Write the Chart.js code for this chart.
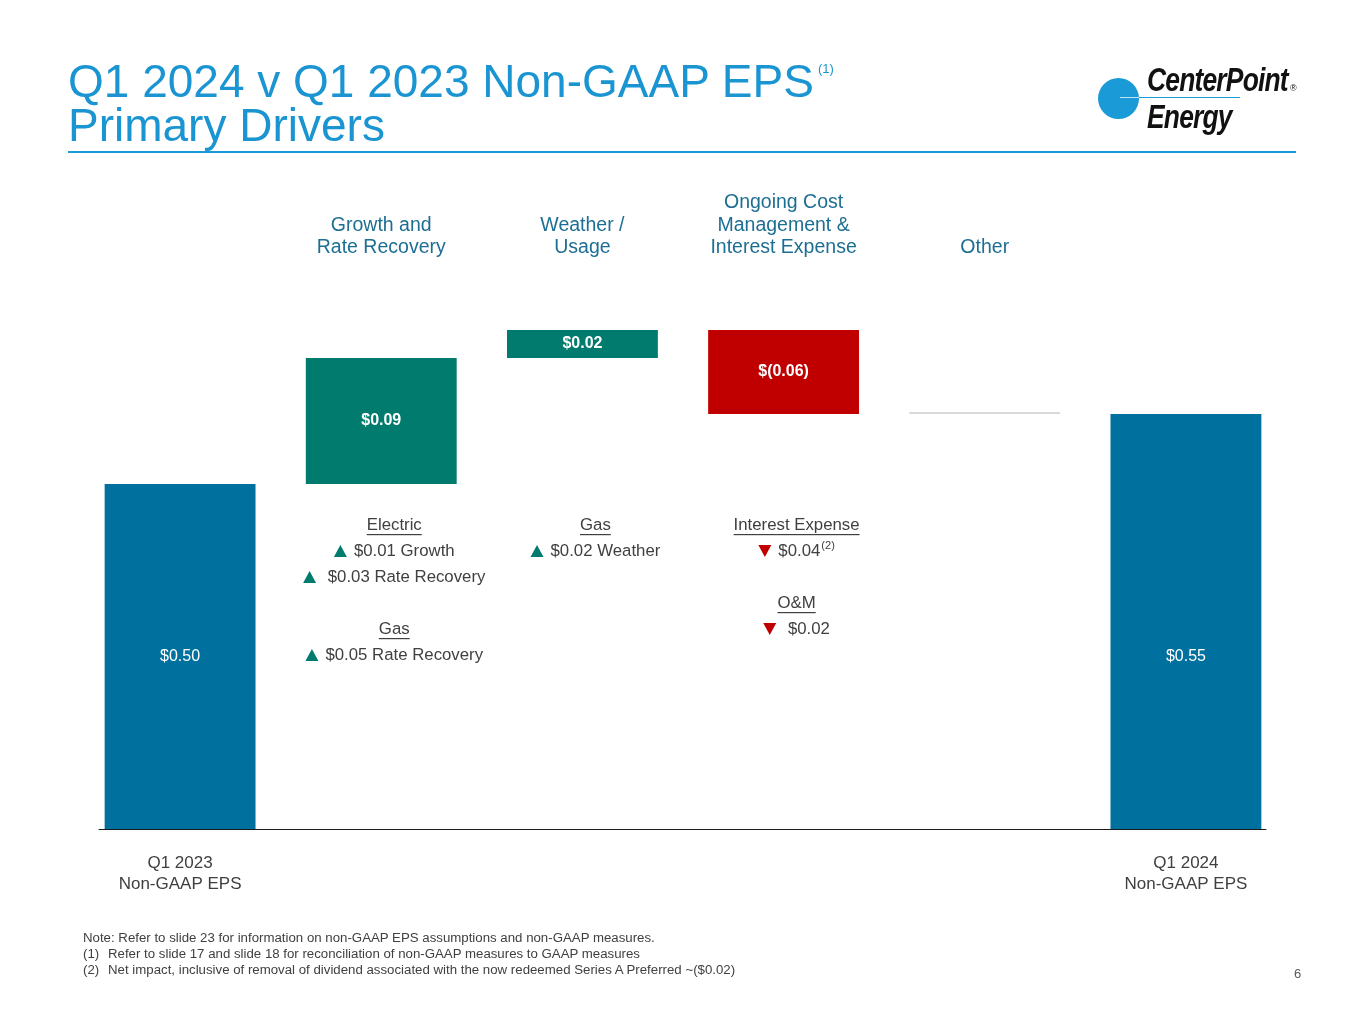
<!DOCTYPE html>
<html>
<head>
<meta charset="utf-8">
<title>Q1 2024 v Q1 2023 Non-GAAP EPS</title>
<script src="https://cdn.jsdelivr.net/npm/chart.js@4.4.1/dist/chart.umd.min.js"></script>
<style>
  body { margin: 0; width: 1365px; height: 1024px; position: relative; background: #fff; overflow: hidden;
         font-family: "Liberation Sans", Arial, sans-serif; }
  #chart { position: absolute; left: 0; top: 0; }
  .title { position: absolute; left: 68px; font-size: 46px; line-height: 46px; color: #1a95d2; white-space: nowrap; }
  .title-sup { position: absolute; left: 818px; top: 61px; font-size: 13px; color: #1a95d2; }
  .rule { position: absolute; left: 68px; top: 151px; width: 1228px; height: 2px; background: #1a9ad6; }
  .logo-dot { position: absolute; left: 1098px; top: 78px; width: 41px; height: 41px; border-radius: 50%; background: #1a9ad6; }
  .logo-line { position: absolute; left: 1120px; top: 97px; width: 120px; height: 1px; background: #1a9ad6; }
  .logo-line-in { position: absolute; left: 1120px; top: 97px; width: 19px; height: 1px; background: #bfe3f5; }
  .logo-text { position: absolute; left: 1147px; color: #111; font-weight: bold; font-style: italic; font-size: 33px;
               letter-spacing: -1px; line-height: 33px; white-space: nowrap; transform: scaleX(0.8); transform-origin: left top; }
  .logo-reg { position: absolute; left: 1290px; top: 83px; font-size: 9px; color: #111; }
  .notes { position: absolute; left: 83px; top: 930px; font-size: 13.25px; line-height: 16px; color: #404040; white-space: nowrap; }
  .notes span { display: inline-block; width: 25px; }
  .page { position: absolute; left: 1294px; top: 966px; font-size: 13px; color: #595959; }
</style>
</head>
<body>
<canvas id="chart" width="1365" height="1024"></canvas>

<div class="title" style="top:58px">Q1 2024 v Q1 2023 Non-GAAP EPS</div>
<div class="title-sup">(1)</div>
<div class="title" style="top:102px">Primary Drivers</div>
<div class="rule"></div>

<div class="logo-dot"></div>
<div class="logo-line"></div>
<div class="logo-line-in"></div>
<div class="logo-text" style="top:63px">CenterPoint</div>
<div class="logo-text" style="top:100px">Energy</div>
<div class="logo-reg">®</div>

<div class="notes">
  Note: Refer to slide 23 for information on non-GAAP EPS assumptions and non-GAAP measures.<br>
  <span>(1)</span>Refer to slide 17 and slide 18 for reconciliation of non-GAAP measures to GAAP measures<br>
  <span>(2)</span>Net impact, inclusive of removal of dividend associated with the now redeemed Series A Preferred ~($0.02)
</div>
<div class="page">6</div>

<script>
const FONT = '"Liberation Sans", Arial, sans-serif';

// chart data
const categories = ["Q1 2023 Non-GAAP EPS", "Growth and Rate Recovery", "Weather / Usage",
  "Ongoing Cost Management & Interest Expense", "Other", "Q1 2024 Non-GAAP EPS"];
const bottomLabels = [["Q1 2023", "Non-GAAP EPS"], "", "", "", "", ["Q1 2024", "Non-GAAP EPS"]];
const headerLabels = ["", ["Growth and", "Rate Recovery"], ["Weather /", "Usage"],
  ["Ongoing Cost", "Management &", "Interest Expense"], "Other", ""];
const isTotal = [true, false, false, false, false, true];
const amounts = [0.50, 0.09, 0.02, -0.06, 0.00, 0.55];
const valueLabels = ["$0.50", "$0.09", "$0.02", "$(0.06)", "", "$0.55"];
const barColors = ["#00709f", "#007b6e", "#007b6e", "#c00000", "#d9d9d9", "#00709f"];

// slide axis is cut, baseline is not zero
const axisMin = 0.2536;
const axisMax = 0.6386;

// driver notes under the bars: column, row, text, kind
const driverNotes = [
  [1, 0, "Electric", "head"],
  [1, 1, "$0.01 Growth", "up"],
  [1, 2, " $0.03 Rate Recovery", "up"],
  [1, 4, "Gas", "head"],
  [1, 5, "$0.05 Rate Recovery", "up"],
  [2, 0, "Gas", "head"],
  [2, 1, "$0.02 Weather", "up"],
  [3, 0, "Interest Expense", "head"],
  [3, 1, "$0.04", "down", "(2)"],
  [3, 3, "O&M", "head"],
  [3, 4, " $0.02", "down"],
];

// floating ranges for the waterfall
let running = 0;
const ranges = amounts.map((v, i) => {
  if (isTotal[i]) {
    running = v;
    return [axisMin, v];
  }
  const start = running;
  running = +(running + v).toFixed(4);
  return [start, running];
});

function triangle(ctx, x, y, up, color) {
  ctx.fillStyle = color;
  ctx.beginPath();
  if (up) {
    ctx.moveTo(x, y - 6); ctx.lineTo(x + 6.5, y + 6); ctx.lineTo(x - 6.5, y + 6);
  } else {
    ctx.moveTo(x - 6.5, y - 6); ctx.lineTo(x + 6.5, y - 6); ctx.lineTo(x, y + 6);
  }
  ctx.closePath();
  ctx.fill();
}

const slideDraw = {
  id: "slideDraw",
  afterDatasetsDraw(chart) {
    const { ctx, chartArea } = chart;
    const bars = chart.getDatasetMeta(0).data;
    const first = bars[0];
    const last = bars[bars.length - 1];
    ctx.save();

    // baseline
    ctx.strokeStyle = "#1a1a1a";
    ctx.lineWidth = 1.2;
    ctx.beginPath();
    ctx.moveTo(first.x - first.width / 2 - 6, chartArea.bottom + 0.5);
    ctx.lineTo(last.x + last.width / 2 + 5, chartArea.bottom + 0.5);
    ctx.stroke();

    // labels in bars
    ctx.textAlign = "center";
    ctx.textBaseline = "middle";
    ctx.fillStyle = "#ffffff";
    const totalY = (first.y + first.base) / 2;
    bars.forEach((b, i) => {
      if (!valueLabels[i]) return;
      ctx.font = (isTotal[i] ? "" : "bold ") + "16px " + FONT;
      ctx.fillText(valueLabels[i], b.x, isTotal[i] ? totalY : (b.y + b.base) / 2);
    });

    // driver notes
    const top = chartArea.top + 235;
    driverNotes.forEach(([col, row, text, kind, sup]) => {
      const cx = bars[col].x + 13;
      const y = top + row * 26;
      ctx.font = "16.8px " + FONT;
      ctx.fillStyle = "#404040";
      if (kind === "head") {
        const w = ctx.measureText(text).width;
        ctx.textAlign = "center";
        ctx.fillText(text, cx, y);
        ctx.fillRect(cx - w / 2, y + 9, w, 1.2);
        return;
      }
      const tw = ctx.measureText(text).width;
      ctx.font = "11px " + FONT;
      const sw = sup ? ctx.measureText(sup).width + 1 : 0;
      const total = 13 + 7 + tw + sw;
      const x0 = cx - total / 2;
      triangle(ctx, x0 + 6.5, y, kind === "up", kind === "up" ? "#007b6e" : "#c00000");
      ctx.fillStyle = "#404040";
      ctx.textAlign = "left";
      ctx.font = "16.8px " + FONT;
      ctx.fillText(text, x0 + 20, y);
      if (sup) {
        ctx.font = "11px " + FONT;
        ctx.fillText(sup, x0 + 20 + tw + 1, y - 5);
      }
    });
    ctx.restore();
  },
};

new Chart(document.getElementById("chart"), {
  type: "bar",
  data: {
    labels: categories,
    datasets: [{
      data: ranges,
      backgroundColor: barColors,
      borderWidth: 0,
      minBarLength: 2,
      categoryPercentage: 0.75,
      barPercentage: 1,
    }],
  },
  options: {
    responsive: false,
    animation: false,
    layout: { padding: { left: 79.5, right: 78.5, top: 190, bottom: 131 } },
    plugins: { legend: { display: false }, tooltip: { enabled: false } },
    scales: {
      x: {
        position: "bottom",
        grid: { display: false, drawTicks: false },
        border: { display: false },
        ticks: {
          padding: 23.5,
          color: "#404040",
          font: { family: FONT, size: 17, lineHeight: 1.25 },
          autoSkip: false,
          maxRotation: 0,
          callback: (v, i) => bottomLabels[i],
        },
        afterFit: (s) => { s.height = 64; },
      },
      x2: {
        type: "category",
        labels: headerLabels,
        position: "top",
        offset: true,
        grid: { display: false, drawTicks: false },
        border: { display: false },
        ticks: {
          padding: 31,
          color: "#1d6e93",
          font: { family: FONT, size: 19.5, lineHeight: 1.15 },
          autoSkip: false,
          maxRotation: 0,
        },
        afterFit: (s) => { s.height = 100; },
      },
      y: { display: false, min: axisMin, max: axisMax },
    },
  },
  plugins: [slideDraw],
});
</script>
</body>
</html>
